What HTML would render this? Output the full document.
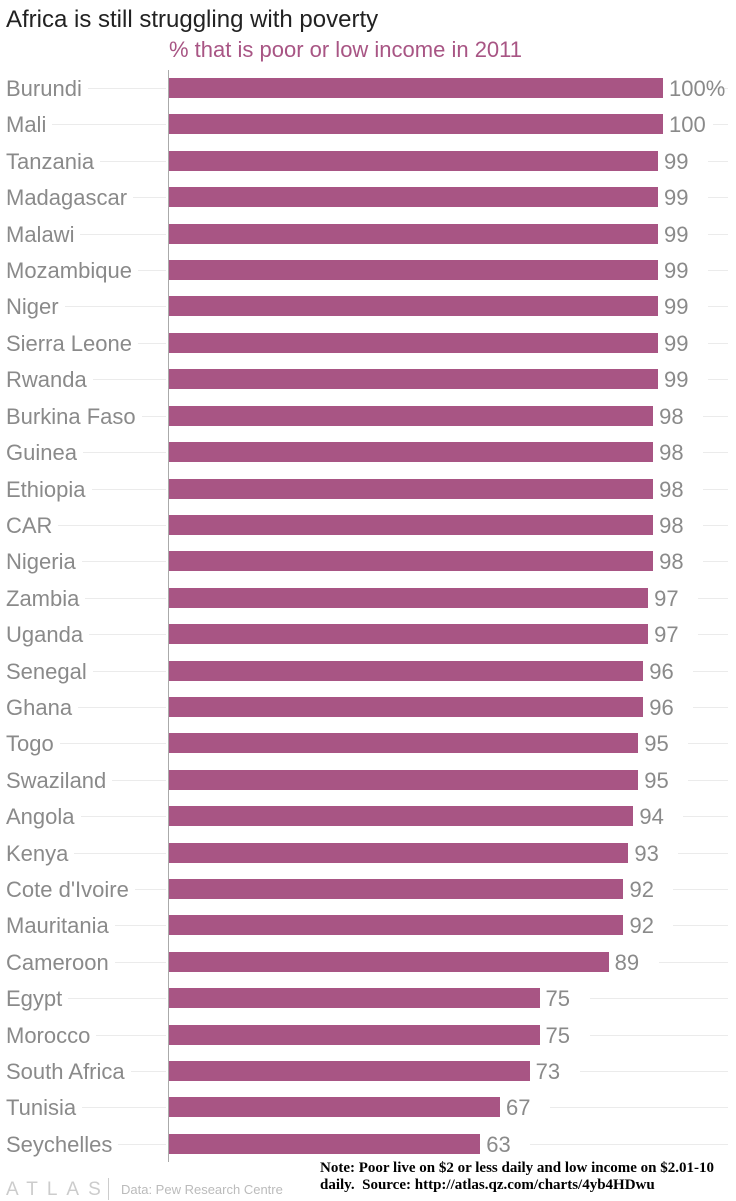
<!DOCTYPE html>
<html><head><meta charset="utf-8"><style>
body{margin:0;width:736px;height:1201px;background:#fff;position:relative;overflow:hidden;font-family:"Liberation Sans",sans-serif}
.a{position:absolute}
.l{position:absolute;left:6px;font-size:22px;color:#8a8a8a;line-height:24px}
.g{position:absolute;height:1px;background:#ebebeb}
.b{position:absolute;left:169px;height:20px;background:#a85584}
.v{position:absolute;font-size:22px;color:#8a8a8a;line-height:24px}
</style></head><body>
<div class="a" style="left:6px;top:6px;font-size:24px;color:#222">Africa is still struggling with poverty</div>
<div class="a" style="left:169px;top:37px;font-size:22px;color:#a85584">% that is poor or low income in 2011</div>
<div class="a" style="left:168px;top:70px;width:1px;height:1092px;background:#aaa"></div>
<div id="c"></div>
<div class="a" style="left:6px;top:1179px;font-size:19px;color:#ccc;letter-spacing:9px">ATLAS</div>
<div class="a" style="left:108px;top:1178px;width:1px;height:22px;background:#ccc"></div>
<div class="a" style="left:121px;top:1182px;font-size:13px;color:#bbb">Data: Pew Research Centre</div>
<div class="a" style="left:320px;top:1160px;font-family:'Liberation Serif',serif;font-weight:bold;font-size:15px;line-height:17px;color:#000;width:420px">Note: Poor live on $2 or less daily and low income on $2.01-10 daily.&nbsp; Source: http://atlas.qz.com/charts/4yb4HDwu</div>
<script>
var d=[["Burundi",100,"100%"],["Mali",100],["Tanzania",99],["Madagascar",99],["Malawi",99],["Mozambique",99],["Niger",99],["Sierra Leone",99],["Rwanda",99],["Burkina Faso",98],["Guinea",98],["Ethiopia",98],["CAR",98],["Nigeria",98],["Zambia",97],["Uganda",97],["Senegal",96],["Ghana",96],["Togo",95],["Swaziland",95],["Angola",94],["Kenya",93],["Cote d'Ivoire",92],["Mauritania",92],["Cameroon",89],["Egypt",75],["Morocco",75],["South Africa",73],["Tunisia",67],["Seychelles",63]];
var h="";
d.forEach(function(r,i){var c=88+i*36.41;var w=r[1]*4.94;
h+='<div class="g" style="left:6px;width:160px;top:'+c+'px"></div>';
h+='<div class="g" style="left:'+(169+w+50)+'px;right:8px;top:'+c+'px"></div>';
h+='<div class="l" style="top:'+(c-11)+'px;background:#fff;padding-right:6px">'+r[0]+'</div>';
h+='<div class="b" style="top:'+(c-10)+'px;width:'+w+'px"></div>';
h+='<div class="v" style="top:'+(c-11)+'px;left:'+(169+w+6)+'px">'+(r[2]||r[1])+'</div>';});
document.getElementById("c").innerHTML=h;
</script>
</body></html>
